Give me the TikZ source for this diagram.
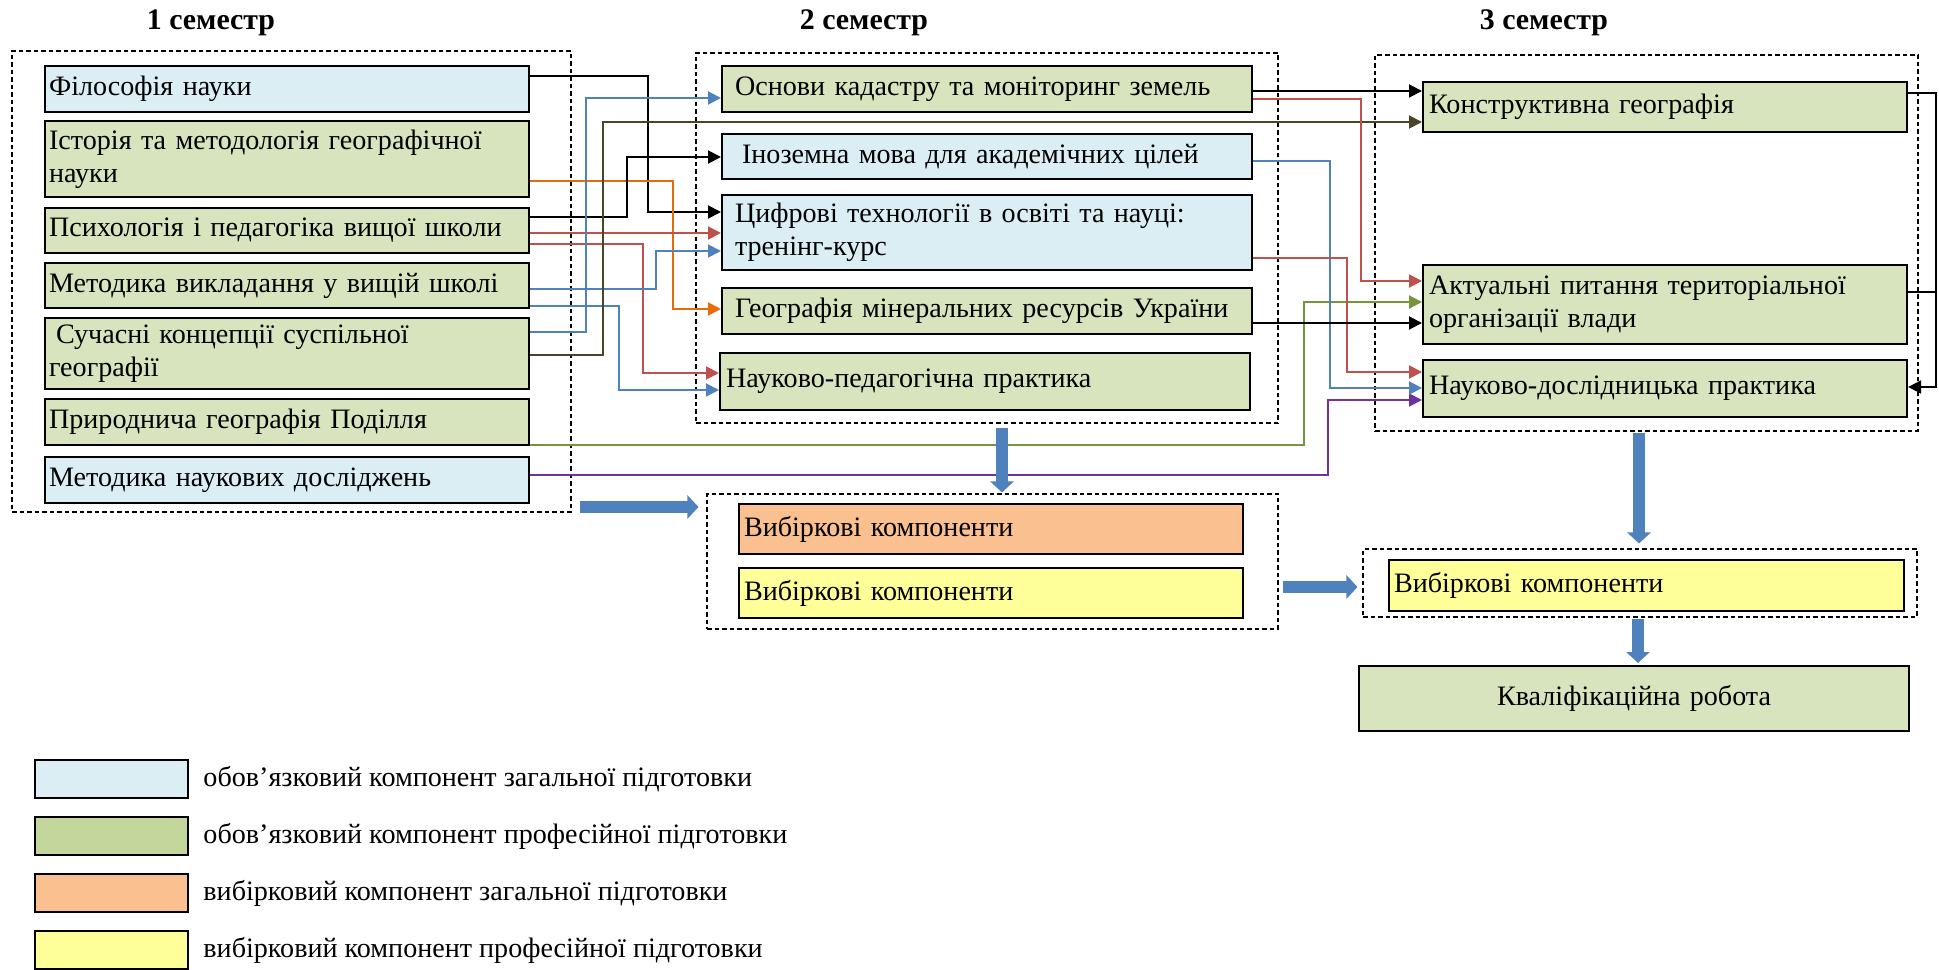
\documentclass[tikz,border=0pt]{standalone}
\usepackage{fontspec}
\setmainfont{Liberation Serif}
\usetikzlibrary{positioning,fit,arrows.meta}

\definecolor{cblue}{HTML}{DBEEF4}
\definecolor{cgreen}{HTML}{D7E4BD}
\definecolor{lgreen}{HTML}{C3D69B}
\definecolor{corange}{HTML}{FAC090}
\definecolor{cyellow}{HTML}{FFFF99}
\definecolor{aBlue}{HTML}{4F81BD}
\definecolor{aRed}{HTML}{C0504D}
\definecolor{aGreen}{HTML}{77933C}
\definecolor{aPurple}{HTML}{7030A0}
\definecolor{aOrange}{HTML}{E46C0A}
\definecolor{aOlive}{HTML}{4A452A}

\begin{document}
\begin{tikzpicture}[x=0.2mm, y=-0.2mm,
  box/.style = {draw, line width=1.2pt, anchor=north west, align=left, inner xsep=0.8mm, inner ysep=0pt, font=\fontsize{16}{18.8}\selectfont},
  grp/.style = {draw, line width=0.6pt, dash pattern=on 0.9mm off 0.6mm, inner sep=0pt},
  conn/.style = {line width=1.1pt, -{Triangle[length=2.6mm,width=2.6mm]}},
  big/.style = {draw=aBlue, line width=2.3mm, -{Triangle[length=2.2mm,width=4.6mm]}},
  sem/.style = {font=\fontsize{17}{20}\selectfont\bfseries},
  legbox/.style = {draw, line width=1.2pt, minimum width=30.6mm, minimum height=7.6mm, inner sep=0pt},
  legtxt/.style = {inner sep=0pt, font=\fontsize{16}{18.8}\selectfont}]

  \useasboundingbox (0,0) rectangle (1939,970);

  % semesters
  \node[sem] (h1) at (211,23) {1 семестр};
  \node[sem] (h2) at (864,23) {2 семестр};
  \node[sem] (h3) at (1544,23) {3 семестр};

  \node[grp, fit={(12,51) (571,512)}] (sem1) {};
  \node[grp, fit={(696,53) (1278,423)}] (sem2) {};
  \node[grp, fit={(1375,55) (1918,431)}] (sem3) {};
  \node[grp, fit={(707,494) (1278,629)}] (vyb2) {};
  \node[grp, fit={(1363,549) (1917,617)}] (vyb3) {};

  % 1 semestr
  \node[box, fill=cblue, text width=95.2mm, minimum height=9.2mm] (fil) at (44,65) {Філософія науки};
  \node[box, fill=cgreen, text width=95.2mm, minimum height=15.2mm] (ist) at (44,120) {Історія та методологія географічної\\науки};
  \node[box, fill=cgreen, text width=95.2mm, minimum height=9mm] (psy) at (44,207) {Психологія і педагогіка вищої школи};
  \node[box, fill=cgreen, text width=95.2mm, minimum height=9mm] (met) at (44,262) {Методика викладання у вищій школі};
  \node[box, fill=cgreen, text width=95.2mm, minimum height=14.2mm] (suc) at (44,317) {\hspace*{1.4mm}Сучасні концепції суспільної\\географії};
  \node[box, fill=cgreen, text width=95.2mm, minimum height=9.2mm] (pryr) at (44,398) {Природнича географія Поділля};
  \node[box, fill=cblue, text width=95.2mm, minimum height=9.2mm] (mnd) at (44,456) {Методика наукових досліджень};

  % 2 semestr
  \node[box, fill=cgreen, text width=100.8mm, inner xsep=2.6mm, minimum height=9.2mm] (osn) at (721,65) {Основи кадастру та моніторинг земель};
  \node[box, fill=cblue, text width=100.8mm, inner xsep=2.6mm, minimum height=9mm] (ino) at (721,133) {\hspace*{1.4mm}Іноземна мова для академічних цілей};
  \node[box, fill=cblue, text width=100.8mm, inner xsep=2.6mm, minimum height=15mm] (cyf) at (721,194) {Цифрові технології в освіті та науці:\\тренінг-курс};
  \node[box, fill=cgreen, text width=100.8mm, inner xsep=2.6mm, minimum height=9.2mm] (geo) at (721,287) {Географія мінеральних ресурсів України};
  \node[box, fill=cgreen, text width=103.6mm, inner xsep=1.2mm, minimum height=11.4mm] (npp) at (719,352) {Науково-педагогічна практика};

  % 3 semestr
  \node[box, fill=cgreen, text width=94.4mm, inner xsep=1.2mm, minimum height=10mm] (kon) at (1422,81) {Конструктивна географія};
  \node[box, fill=cgreen, text width=94.4mm, inner xsep=1.2mm, minimum height=15.8mm] (akt) at (1422,264) {Актуальні питання територіальної\\організації влади};
  \node[box, fill=cgreen, text width=94.4mm, inner xsep=1.2mm, minimum height=11.4mm] (ndp) at (1422,359) {Науково-дослідницька практика};

  % vybirkovi
  \node[box, fill=corange, text width=98.8mm, inner xsep=1mm, minimum height=10mm] (vz) at (738,503) {Вибіркові компоненти};
  \node[box, fill=cyellow, text width=98.8mm, inner xsep=1mm, minimum height=10mm] (vp) at (738,567) {Вибіркові компоненти};
  \node[box, fill=cyellow, text width=101mm, inner xsep=1mm, minimum height=10.2mm] (vp3) at (1388,559) {Вибіркові компоненти};
  \node[box, fill=cgreen, text width=108mm, inner xsep=1mm, minimum height=13mm, align=center] (kval) at (1358,665) {Кваліфікаційна робота};

  % zviazky
  \draw[conn] (fil.east |- 0,76) -| (648,212) -- (cyf.west |- 0,212);
  \draw[conn, aOrange] (ist.east |- 0,181) -| (673,309) -- (geo.west |- 0,309);
  \draw[conn] (psy.east |- 0,217) -| (627,157) -- (ino.west |- 0,157);
  \draw[conn, aRed] (psy.east |- 0,233) -- (cyf.west |- 0,233);
  \draw[conn, aRed] (psy.east |- 0,244) -| (643,373) -- (npp.west |- 0,373);
  \draw[conn, aBlue] (met.east |- 0,289) -| (656,251) -- (cyf.west |- 0,251);
  \draw[conn, aBlue] (met.east |- 0,306) -| (619,390) -- (npp.west |- 0,390);
  \draw[conn, aBlue] (suc.east |- 0,332) -| (586,98) -- (osn.west |- 0,98);
  \draw[conn, aOlive] (suc.east |- 0,355) -| (603,122) -- (kon.west |- 0,122);
  \draw[conn, aGreen] (pryr.east |- 0,445) -| (1304,302) -- (akt.west |- 0,302);
  \draw[conn, aPurple] (mnd.east |- 0,475) -| (1328,400) -- (ndp.west |- 0,400);

  \draw[conn] (osn.east |- 0,91) -- (kon.west |- 0,91);
  \draw[conn, aRed] (osn.east |- 0,99) -| (1361,281) -- (akt.west |- 0,281);
  \draw[conn, aBlue] (ino.east |- 0,161) -| (1330,388) -- (ndp.west |- 0,388);
  \draw[conn, aRed] (cyf.east |- 0,258) -| (1347,372) -- (ndp.west |- 0,372);
  \draw[conn] (geo.east |- 0,323) -- (akt.west |- 0,323);

  \draw[conn] (kon.east |- 0,93) -| (1936,387) -- (ndp.east |- 0,387);
  \draw[line width=1.1pt] (akt.east |- 0,292) -- (1936,292);

  % velyki strilky
  \draw[big, shorten <=1.6mm, shorten >=1.6mm] (sem1.east |- 0,507) -- (vyb2.west |- 0,507);
  \draw[big, shorten <=0.8mm, shorten >=0.2mm] (1002,0 |- sem2.south) -- (1002,0 |- vyb2.north);
  \draw[big, shorten <=0.8mm, shorten >=1mm] (vyb2.east |- 0,587) -- (vyb3.west |- 0,587);
  \draw[big, shorten <=0.2mm, shorten >=1mm] (1639,0 |- sem3.south) -- (1639,0 |- vyb3.north);
  \draw[big, shorten <=0.2mm, shorten >=0.4mm] (1638,0 |- vyb3.south) -- (1638,0 |- kval.north);

  % legenda
  \node[legbox, fill=cblue, anchor=north west] (l1) at (34,759) {};
  \node[legbox, fill=lgreen, below=3.4mm of l1] (l2) {};
  \node[legbox, fill=corange, below=3.4mm of l2] (l3) {};
  \node[legbox, fill=cyellow, below=3.4mm of l3] (l4) {};
  \node[legtxt, right=2.8mm of l1] (t1) {обов’язковий компонент загальної підготовки};
  \node[legtxt, right=2.8mm of l2] (t2) {обов’язковий компонент професійної підготовки};
  \node[legtxt, right=2.8mm of l3] (t3) {вибірковий компонент загальної підготовки};
  \node[legtxt, right=2.8mm of l4] (t4) {вибірковий компонент професійної підготовки};
\end{tikzpicture}
\end{document}
